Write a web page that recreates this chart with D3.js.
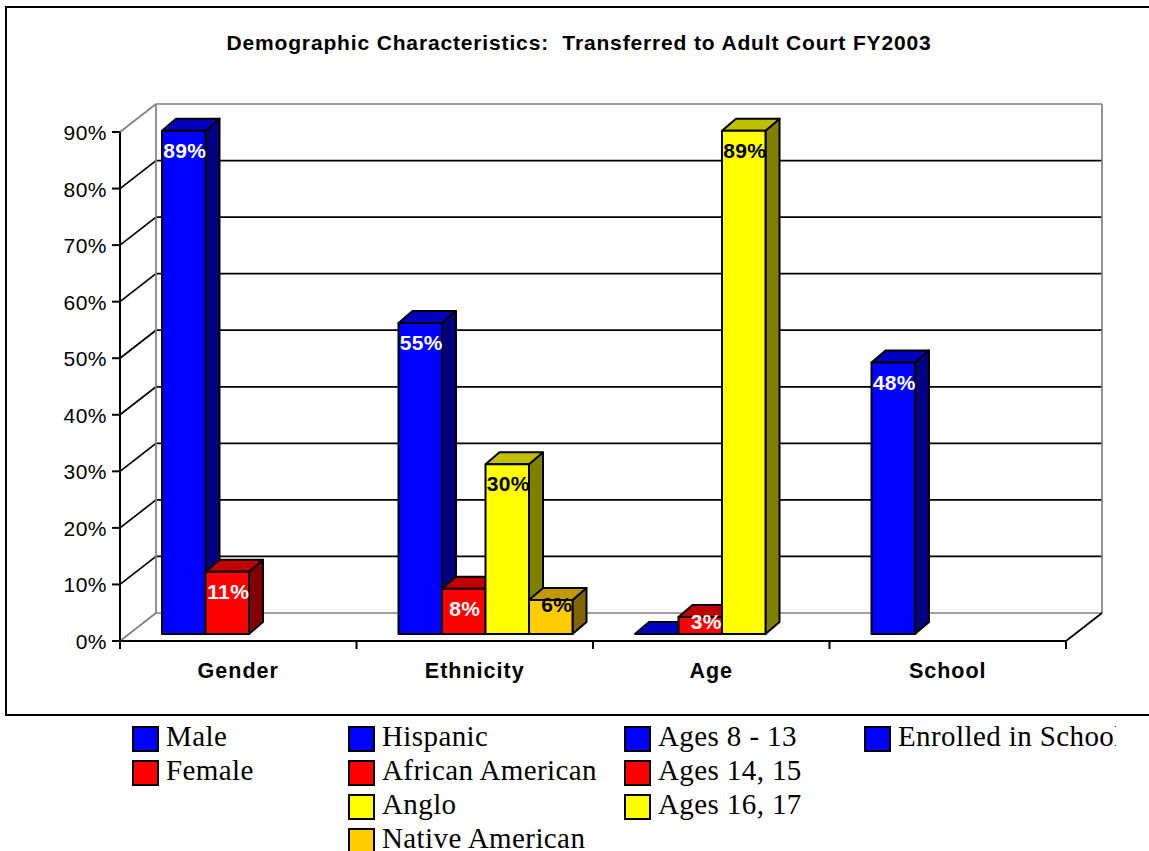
<!DOCTYPE html>
<html>
<head>
<meta charset="utf-8">
<script src="https://cdn.jsdelivr.net/npm/d3@7"></script>
<style>
  body { margin: 0; background: #fff; }
  svg { display: block; }
  text { white-space: pre; }
</style>
</head>
<body>
<svg id="chart" width="1149" height="851"></svg>
<script>
// ---- data ----
const categories = ["Gender", "Ethnicity", "Age", "School"];
const genderSeries = ["Male", "Female"];
const genderValues = [89, 11];
const ethnicitySeries = ["Hispanic", "African American", "Anglo", "Native American"];
const ethnicityValues = [55, 8, 30, 6];
const ageSeries = ["Ages 8 - 13", "Ages 14, 15", "Ages 16, 17"];
const ageValues = [0, 3, 89];
const schoolSeries = ["Enrolled in School"];
const schoolValues = [48];
const yTicks = [0, 10, 20, 30, 40, 50, 60, 70, 80, 90];
const yTickLabels = ["0%", "10%", "20%", "30%", "40%", "50%", "60%", "70%", "80%", "90%"];
const titleText = "Demographic Characteristics:  Transferred to Adult Court FY2003";

// face shades per series slot: front, top, side, label colour
const palette = [
  { front: "#0000FF", top: "#0000C0", side: "#000080", text: "#FFFFFF" },
  { front: "#FF0000", top: "#C00000", side: "#800000", text: "#FFFFFF" },
  { front: "#FFFF00", top: "#C0C000", side: "#808000", text: "#000000" },
  { front: "#FFCC00", top: "#C09900", side: "#806600", text: "#000000" }
];

const groups = [
  { cat: categories[0], names: genderSeries, values: genderValues },
  { cat: categories[1], names: ethnicitySeries, values: ethnicityValues },
  { cat: categories[2], names: ageSeries, values: ageValues },
  { cat: categories[3], names: schoolSeries, values: schoolValues }
];

// ---- layout ----
const sans = "'Liberation Sans', Arial, sans-serif";
const serif = "'Liberation Serif', 'Times New Roman', serif";
const svg = d3.select("#chart");

const y = d3.scaleLinear().domain([0, 90]).range([641, 132]);
const x = d3.scaleBand().domain(categories).range([120, 1066]);
const slot = d3.scaleBand().domain(d3.range(4)).range([42, 42 + 4 * 43.5]);
const wall = { dx: 36, dy: -28 };      // depth of the floor / side wall
const barShift = -7;                   // bars stand slightly behind the front edge
const barDepth = { dx: 14, dy: -12 };  // depth of each 3-D bar

// outer frame
svg.append("rect")
  .attr("x", 6).attr("y", 7).attr("width", 1200).attr("height", 708)
  .attr("fill", "none").attr("stroke", "#000").attr("stroke-width", 2);

svg.append("text")
  .attr("x", 579).attr("y", 50).attr("text-anchor", "middle")
  .attr("font-family", sans).attr("font-weight", "bold").attr("font-size", 21)
  .attr("letter-spacing", 0.85)
  .text(titleText);

// walls and gridlines
const grid = svg.append("g").attr("fill", "none");
const xL = x.range()[0], xR = x.range()[1];
const isEdge = v => v === 0 || v === 90;

grid.selectAll("line.back").data(yTicks).join("line")
  .attr("x1", xL + wall.dx).attr("x2", xR + wall.dx)
  .attr("y1", d => y(d) + wall.dy).attr("y2", d => y(d) + wall.dy)
  .attr("stroke", d => isEdge(d) ? "#808080" : "#000")
  .attr("stroke-width", 1.7);

grid.selectAll("line.side").data(yTicks).join("line")
  .attr("x1", xL).attr("x2", xL + wall.dx)
  .attr("y1", d => y(d)).attr("y2", d => y(d) + wall.dy)
  .attr("stroke", d => isEdge(d) ? "#808080" : "#000")
  .attr("stroke-width", 1.7);

[xL + wall.dx, xR + wall.dx].forEach(xx => {
  grid.append("line")
    .attr("x1", xx).attr("x2", xx)
    .attr("y1", y(90) + wall.dy).attr("y2", y(0) + wall.dy)
    .attr("stroke", "#808080").attr("stroke-width", 1.7);
});

// floor front edge and right side
grid.append("line").attr("x1", xL).attr("x2", xR).attr("y1", y(0)).attr("y2", y(0))
  .attr("stroke", "#000").attr("stroke-width", 2);
grid.append("line").attr("x1", xR).attr("x2", xR + wall.dx)
  .attr("y1", y(0)).attr("y2", y(0) + wall.dy)
  .attr("stroke", "#000").attr("stroke-width", 1.7);

// value axis
grid.append("line").attr("x1", xL).attr("x2", xL).attr("y1", y(90)).attr("y2", y(0))
  .attr("stroke", "#000").attr("stroke-width", 2);
grid.selectAll("line.ytick").data(yTicks).join("line")
  .attr("x1", xL - 8).attr("x2", xL).attr("y1", d => y(d)).attr("y2", d => y(d))
  .attr("stroke", "#000").attr("stroke-width", 2);
svg.append("g").selectAll("text").data(yTicks).join("text")
  .attr("x", xL - 13).attr("y", d => y(d) + 8).attr("text-anchor", "end")
  .attr("font-family", sans).attr("font-size", 21).attr("letter-spacing", 0.5)
  .text((d, i) => yTickLabels[i]);

// category axis
const catTicks = categories.map(c => x(c)).concat([xR]);
grid.selectAll("line.xtick").data(catTicks).join("line")
  .attr("x1", d => d).attr("x2", d => d).attr("y1", y(0)).attr("y2", y(0) + 8)
  .attr("stroke", "#000").attr("stroke-width", 2);
svg.append("g").selectAll("text").data(categories).join("text")
  .attr("x", d => x(d) + x.bandwidth() / 2).attr("y", 678).attr("text-anchor", "middle")
  .attr("font-family", sans).attr("font-weight", "bold").attr("font-size", 21.5)
  .attr("letter-spacing", 1)
  .text(d => d);

// 3-D bars
const bars = svg.append("g").attr("stroke", "#000").attr("stroke-width", 2)
  .attr("stroke-linejoin", "round");
const labels = [];
groups.forEach(g => {
  g.values.forEach((v, i) => {
    const c = palette[i];
    const x0 = x(g.cat) + slot(i), x1 = x0 + slot.bandwidth();
    const yb = y(0) + barShift, yt = y(v) + barShift;
    const dx = barDepth.dx, dy = barDepth.dy;
    const pts = a => a.map(p => p.join(",")).join(" ");
    bars.append("polygon").attr("fill", c.side)
      .attr("points", pts([[x1, yt], [x1 + dx, yt + dy], [x1 + dx, yb + dy], [x1, yb]]));
    bars.append("polygon").attr("fill", c.top)
      .attr("points", pts([[x0, yt], [x0 + dx, yt + dy], [x1 + dx, yt + dy], [x1, yt]]));
    bars.append("rect").attr("fill", c.front)
      .attr("x", x0).attr("y", yt).attr("width", x1 - x0).attr("height", yb - yt);
    if (v > 0) {
      const small = (yb - yt) < 40;
      labels.push({
        x: (x0 + x1) / 2 + (small ? 6 : 1),
        y: yt + (small ? 12 : 27),
        text: v + "%", color: c.text
      });
    }
  });
});
svg.append("g").selectAll("text").data(labels).join("text")
  .attr("x", d => d.x).attr("y", d => d.y).attr("text-anchor", "middle")
  .attr("font-family", sans).attr("font-weight", "bold").attr("font-size", 21)
  .attr("letter-spacing", 0.4)
  .attr("fill", d => d.color).text(d => d.text);

// legend, one column per category
svg.append("clipPath").attr("id", "legendClip")
  .append("rect").attr("x", 0).attr("y", 716).attr("width", 1116).attr("height", 140);
const legend = svg.append("g").attr("clip-path", "url(#legendClip)");
const legendCols = [133, 349, 625, 865];
groups.forEach((g, gi) => {
  g.names.forEach((name, i) => {
    const lx = legendCols[gi], ly = 727 + i * 34;
    legend.append("rect").attr("x", lx).attr("y", ly).attr("width", 25).attr("height", 24)
      .attr("fill", palette[i].front).attr("stroke", "#000").attr("stroke-width", 2);
    legend.append("text").attr("x", lx + 33).attr("y", ly + 19)
      .attr("font-family", serif).attr("font-size", 29).attr("letter-spacing", 0.4)
      .text(name);
  });
});
</script>
</body>
</html>
